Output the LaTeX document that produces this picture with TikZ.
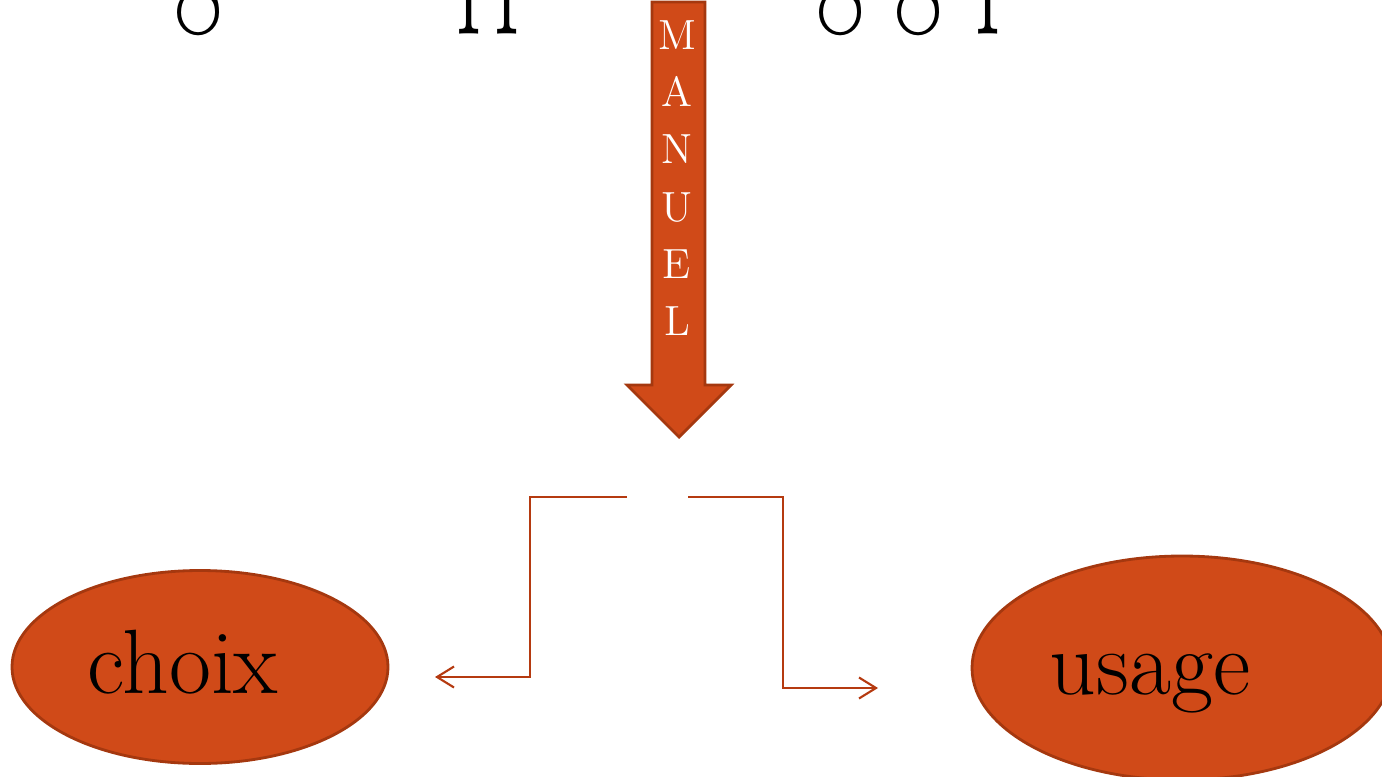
\documentclass[tikz,border=0pt]{standalone}
\usepackage{tikz}
\usetikzlibrary{shapes.geometric,arrows.meta}

\definecolor{rouille}{RGB}{208,74,24}
\definecolor{rouillefonce}{RGB}{165,56,15}
\definecolor{trait}{RGB}{181,58,16}

\begin{document}
\begin{tikzpicture}[x=0.1mm,y=-0.1mm,
		bulle/.style={ellipse,fill=rouille,draw=rouillefonce,thick,inner sep=0,text height=14.8pt,text depth=0pt,font=\fontsize{26}{30}\selectfont},
		lettre/.style={anchor=base,inner sep=0,xscale=0.55,transform shape,font=\fontsize{52}{56}\selectfont},
		fleche/.style={trait,line width=0.6pt,-{Straight Barb[length=1.7mm,width=2.1mm]}}
	]
	\useasboundingbox (0,0) rectangle (1382,776);
	\clip (0,0) rectangle (1382,776);
	% bas du titre, coupe par le cadre
	\node[lettre] (t1) at (199,-1)  {g};
	\node[lettre] (t2) at (482,-1)  {p};
	\node[lettre] (t3) at (520,-1)  {p};
	\node[lettre] (t4) at (841,-1)  {g};
	\node[lettre] (t5) at (919,-1)  {g};
	\node[lettre] (t6) at (1001,-1) {p};
	% grande fleche
	\filldraw[fill=rouille,draw=rouillefonce,thick] (652,2) -- (705,2) -- (705,385) -- (731,385) -- (679,437) -- (627,385) -- (652,385) -- cycle;
	\node[text=white,align=center,inner sep=0,font=\fontsize{12}{16.3}\selectfont] (manuel) at (677,178) {M\\A\\N\\U\\E\\L};
	% les deux bulles
	\node[bulle,minimum width=37.6mm,minimum height=19.3mm] (choix) at (200,667) {choix\hspace*{3.4mm}};
	\node[bulle,minimum width=42mm,minimum height=22.4mm]   (usage) at (1182,668) {usage\hspace*{6.4mm}};
	% renvois
	\coordinate (gdep) at (627,497);
	\coordinate (gfin) at (435,677);
	\coordinate (ddep) at (688,497);
	\coordinate (dfin) at (878,688);
	\draw[fleche] (gdep) -- (530,497) |- (gfin);
	\draw[fleche] (ddep) -- (783,497) |- (dfin);
\end{tikzpicture}
\end{document}
